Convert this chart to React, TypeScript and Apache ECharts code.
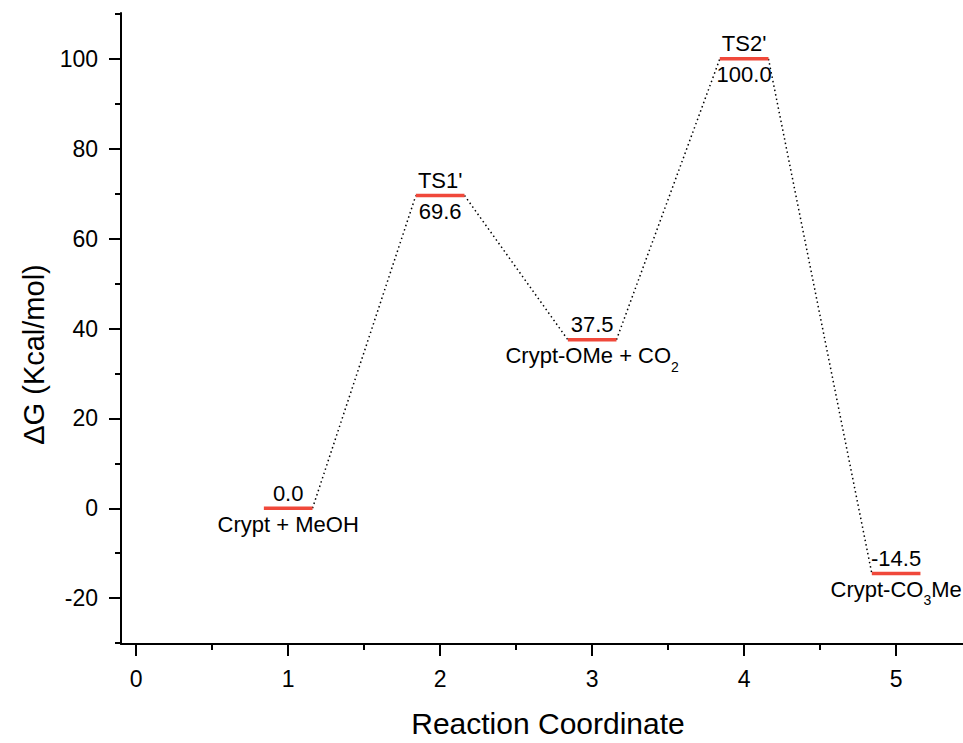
import React, { useEffect, useRef } from "react";
import * as echarts from "echarts";

// Reaction profile data
const positions = [1, 2, 3, 4, 5];
const energies = [0.0, 69.6, 37.5, 100.0, -14.5];
const stateNames = ["Crypt + MeOH", "TS1'", "Crypt-OMe + CO{sub|2}", "TS2'", "Crypt-CO{sub|3}Me"];
const isTransitionState = [false, true, false, true, false];

// Axis ticks
const xTicks = [0, 1, 2, 3, 4, 5];
const yTicks = [-20, 0, 20, 40, 60, 80, 100];

const xTitle = "Reaction Coordinate";
const yTitle = "\u0394G (Kcal/mol)";

const FONT = "'Liberation Sans', Arial, Helvetica, sans-serif";
const LEVEL_HALF = 0.16;
const RED = "#f0483a";

export default function App() {
  const ref = useRef<HTMLDivElement | null>(null);

  useEffect(() => {
    document.body.style.margin = "0";
    if (!ref.current) return;
    const chart = echarts.init(ref.current, null, { renderer: "svg" });

    const rich = {
      sub: { fontSize: 14, fontFamily: FONT, fill: "#000", padding: [22, 0, 0, 0] },
    };

    const data = positions.map((x, i) => [x, energies[i], i]);

    const option = {
      animation: false,
      backgroundColor: "#fff",
      grid: { left: 121, right: 0, top: 13, bottom: 95.5, containLabel: false },
      xAxis: {
        type: "value",
        min: -0.1,
        max: 5.44,
        splitNumber: 5,
        splitLine: { show: false },
        axisLine: { show: true, onZero: false, lineStyle: { color: "#000", width: 2 } },
        axisTick: { show: true, inside: false, length: 12, customValues: xTicks, lineStyle: { color: "#000", width: 2 } },
        minorTick: { show: true, splitNumber: 2, length: 6, lineStyle: { color: "#000", width: 2 } },
        axisLabel: {
          customValues: xTicks,
          margin: 23,
          color: "#000",
          fontSize: 23,
          fontFamily: FONT,
          formatter: (v: number) => String(v),
        },
        name: xTitle,
        nameLocation: "middle",
        nameGap: 64,
        nameTextStyle: { fontSize: 30, fontFamily: FONT, color: "#000", padding: [0, 0, 0, 12] },
      },
      yAxis: {
        type: "value",
        min: -30.2,
        max: 110.2,
        splitNumber: 7,
        splitLine: { show: false },
        axisLine: { show: true, onZero: false, lineStyle: { color: "#000", width: 2 } },
        axisTick: { show: true, inside: false, length: 12, customValues: yTicks, lineStyle: { color: "#000", width: 2 } },
        minorTick: { show: true, splitNumber: 2, length: 6, lineStyle: { color: "#000", width: 2 } },
        axisLabel: {
          customValues: yTicks,
          margin: 23,
          color: "#000",
          fontSize: 23,
          fontFamily: FONT,
          formatter: (v: number) => String(v),
        },
        name: yTitle,
        nameLocation: "middle",
        nameRotate: 90,
        nameGap: 73,
        nameTextStyle: { fontSize: 29, fontFamily: FONT, color: "#000", padding: [0, 52, 0, 0] },
      },
      series: [
        {
          type: "custom",
          clip: false,
          encode: { x: 0, y: 1 },
          data,
          renderItem: (params: any, api: any) => {
            const i = params.dataIndex;
            const x = api.value(0);
            const y = api.value(1);
            const left = api.coord([x - LEVEL_HALF, y]);
            const right = api.coord([x + LEVEL_HALF, y]);
            const cx = (left[0] + right[0]) / 2;
            const cy = left[1];
            const children: any[] = [];
            if (i < positions.length - 1) {
              const next = api.coord([positions[i + 1] - LEVEL_HALF, energies[i + 1]]);
              children.push({
                type: "line",
                shape: { x1: right[0], y1: right[1], x2: next[0], y2: next[1] },
                style: { stroke: "#000", lineWidth: 1.5, lineDash: [1.5, 3] },
              });
            }
            children.push({
              type: "line",
              shape: { x1: left[0], y1: cy, x2: right[0], y2: cy },
              style: { stroke: RED, lineWidth: 3.5 },
            });
            const valueText = energies[i].toFixed(1);
            const above = isTransitionState[i] ? stateNames[i] : valueText;
            const below = isTransitionState[i] ? valueText : stateNames[i];
            children.push({
              type: "text",
              x: cx,
              y: cy - 15,
              style: {
                text: above,
                align: "center",
                verticalAlign: "middle",
                fontSize: 22,
                fontFamily: FONT,
                fill: "#000",
                rich,
              },
            });
            children.push({
              type: "text",
              x: cx,
              y: cy + 16,
              style: {
                text: below,
                align: "center",
                verticalAlign: "middle",
                fontSize: 22,
                fontFamily: FONT,
                fill: "#000",
                rich,
              },
            });
            return { type: "group", children };
          },
        },
      ],
    };

    chart.setOption(option as any);
    return () => chart.dispose();
  }, []);

  return <div ref={ref} style={{ width: 963, height: 743 }} />;
}
